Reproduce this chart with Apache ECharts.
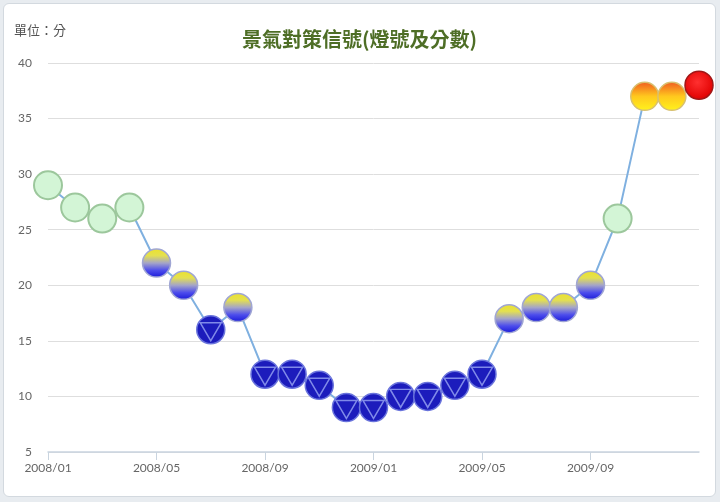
<!DOCTYPE html>
<html>
<head>
<meta charset="utf-8">
<script src="https://cdn.jsdelivr.net/npm/echarts@6/dist/echarts.min.js"></script>
<style>
  html, body { margin: 0; padding: 0; background: #e8ecf0; }
  #box {
    position: absolute; left: 3px; top: 3px; width: 711px; height: 492px;
    border: 1px solid #d3d9df; border-radius: 6px; background: #fff; overflow: hidden;
  }
  #chart { width: 711px; height: 492px; }
</style>
</head>
<body>
<div id="box"><div id="chart"></div></div>
<script>
// 月份與景氣對策信號分數
const months = [
  '2008/01','2008/02','2008/03','2008/04','2008/05','2008/06','2008/07','2008/08',
  '2008/09','2008/10','2008/11','2008/12','2009/01','2009/02','2009/03','2009/04',
  '2009/05','2009/06','2009/07','2009/08','2009/09','2009/10','2009/11','2009/12','2010/01'
];
const scores = [29, 27, 26, 27, 22, 20, 16, 18, 12, 12, 11, 9, 9, 10, 10, 11, 12, 17, 18, 18, 20, 26, 37, 37, 38];
const yTicks = [5, 10, 15, 20, 25, 30, 35, 40];
const xTickLabels = ['2008/01', '2008/05', '2008/09', '2009/01', '2009/05', '2009/09'];

// 燈號樣式
function lightStyle(v) {
  if (v >= 38) {
    return { color: { type: 'radial', x: 0.45, y: 0.4, r: 0.6, colorStops: [
      { offset: 0, color: '#ff3030' }, { offset: 1, color: '#e00000' }] },
      borderColor: '#a01818', borderWidth: 1.5 };
  }
  if (v >= 32) {
    return { color: { type: 'linear', x: 0, y: 0, x2: 0, y2: 1, colorStops: [
      { offset: 0, color: '#f05a20' }, { offset: 0.5, color: '#ffc81e' }, { offset: 1, color: '#fff41c' }] },
      borderColor: '#d8c070', borderWidth: 1.5 };
  }
  if (v >= 23) {
    return { color: '#d3f5d6', borderColor: '#9cc79c', borderWidth: 2 };
  }
  if (v >= 17) {
    return { color: { type: 'linear', x: 0, y: 0, x2: 0, y2: 1, colorStops: [
      { offset: 0, color: '#ece22a' }, { offset: 0.25, color: '#e4e050' }, { offset: 0.5, color: '#a4a4c8' },
      { offset: 0.75, color: '#4c4cec' }, { offset: 1, color: '#1818d8' }] },
      borderColor: '#a0a6d4', borderWidth: 1.5 };
  }
  return { color: '#1c1cbc', borderColor: '#6a74dc', borderWidth: 1.5 };
}

const lineData = scores.map(v => ({ value: v, itemStyle: lightStyle(v) }));
const triData = scores.map(v => v <= 16 ? v : null);
const showTick = (i, name) => xTickLabels.includes(name);

const chart = echarts.init(document.getElementById('chart'));
chart.setOption({
  animation: false,
  title: {
    text: '景氣對策信號(燈號及分數)',
    left: 'center', top: 20,
    textStyle: { color: '#4e6e26', fontSize: 20, fontWeight: 'bold',
      fontFamily: '"Noto Sans CJK TC", sans-serif' }
  },
  graphic: [{
    type: 'text', left: 10, top: 20,
    style: { text: '單位：分', fill: '#555', font: '13px "Noto Sans CJK TC", sans-serif' }
  }],
  grid: { left: 44, right: 16, top: 59, bottom: 44, outerBoundsMode: 'none' },
  xAxis: {
    type: 'category',
    data: months,
    boundaryGap: false,
    axisLine: { lineStyle: { color: '#c9d4df', width: 1.5 } },
    axisTick: { interval: showTick, length: 8, lineStyle: { color: '#c9d4df' } },
    axisLabel: { interval: showTick, color: '#666', fontSize: 12, margin: 10,
      fontFamily: 'Lato, sans-serif' },
    splitLine: { show: false }
  },
  yAxis: {
    type: 'value',
    min: yTicks[0], max: yTicks[yTicks.length - 1], interval: 5,
    axisLine: { show: false },
    axisTick: { show: false },
    axisLabel: { color: '#666', fontSize: 12, margin: 16, fontFamily: 'Lato, sans-serif' },
    splitLine: { lineStyle: { color: '#dedede', width: 1 } }
  },
  series: [{
    type: 'line',
    data: lineData,
    symbol: 'circle',
    symbolSize: 28,
    showAllSymbol: true,
    clip: false,
    lineStyle: { color: '#7fb0e0', width: 2 },
    z: 2
  }, {
    type: 'scatter',
    data: triData,
    symbol: 'path://M0,0 L20,0 L10,17 Z',
    symbolSize: [21, 18],
    symbolOffset: [0, 2],
    itemStyle: { color: 'rgba(0,0,0,0)', borderColor: '#9aa6f4', borderWidth: 1.5 },
    z: 3
  }]
});
</script>
</body>
</html>
